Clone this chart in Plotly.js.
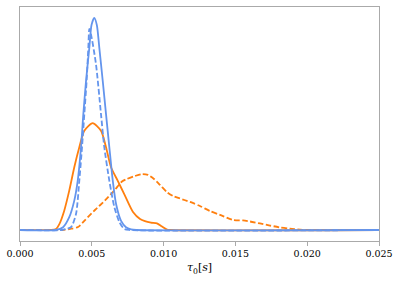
<!DOCTYPE html>
<html>
<head>
<meta charset="utf-8">
<script src="https://cdn.plot.ly/plotly-3.0.1.min.js"></script>
<style>html,body{margin:0;padding:0;background:#fff;}#chart{width:399px;height:283px;}</style>
</head>
<body>
<div id="chart"></div>
<script>
// Blue solid
const blueSolidX = [0, 0.0025, 0.0030, 0.00343, 0.00378, 0.00402, 0.00425, 0.00441, 0.00460, 0.00483, 0.00498, 0.00517, 0.00535, 0.00552, 0.00576, 0.00599, 0.00622, 0.00646, 0.00669, 0.00703, 0.00738, 0.00773, 0.0081, 0.025];
const blueSolidY = [0, 0, 0.013, 0.060, 0.138, 0.232, 0.390, 0.545, 0.702, 0.859, 0.964, 0.997, 0.964, 0.859, 0.702, 0.545, 0.390, 0.232, 0.122, 0.044, 0.013, 0.003, 0, 0];
// Blue dashed
const blueDashX = [0, 0.00292, 0.00320, 0.00355, 0.00390, 0.00413, 0.00432, 0.00448, 0.00464, 0.00476, 0.00483, 0.00494, 0.00529, 0.00564, 0.00587, 0.00622, 0.00657, 0.00692, 0.00726, 0.00766, 0.025];
const blueDashY = [0, 0, 0.005, 0.013, 0.075, 0.232, 0.390, 0.545, 0.702, 0.859, 0.945, 0.921, 0.780, 0.545, 0.390, 0.232, 0.108, 0.038, 0.005, 0, 0];
// Orange solid
const orangeSolidX = [0, 0.00216, 0.00251, 0.00274, 0.00308, 0.00343, 0.00378, 0.00413, 0.00448, 0.00506, 0.00564, 0.00599, 0.00634, 0.00680, 0.00726, 0.00787, 0.00836, 0.00870, 0.00912, 0.00954, 0.00989, 0.01024, 0.01045, 0.025];
const orangeSolidY = [0, 0, 0.005, 0.028, 0.091, 0.185, 0.295, 0.389, 0.467, 0.502, 0.467, 0.389, 0.295, 0.232, 0.169, 0.085, 0.052, 0.042, 0.035, 0.031, 0.016, 0.002, 0, 0];
// Orange dashed
const orangeDashX = [0, 0.00292, 0.00348, 0.00404, 0.00453, 0.00522, 0.00592, 0.00662, 0.00710, 0.00745, 0.00801, 0.00850, 0.00891, 0.00933, 0.00975, 0.01022, 0.01065, 0.01114, 0.01184, 0.01253, 0.01323, 0.01393, 0.01483, 0.01553, 0.01602, 0.01671, 0.01741, 0.01811, 0.01880, 0.01950, 0.01999, 0.025];
const orangeDashY = [0, 0, 0.005, 0.014, 0.047, 0.094, 0.139, 0.190, 0.228, 0.240, 0.254, 0.263, 0.259, 0.240, 0.212, 0.179, 0.160, 0.148, 0.132, 0.113, 0.089, 0.071, 0.047, 0.045, 0.040, 0.031, 0.021, 0.012, 0.006, 0.002, 0, 0];

const xTickVals = [0, 0.005, 0.010, 0.015, 0.020, 0.025];
const xTickText = ['0.000', '0.005', '0.010', '0.015', '0.020', '0.025'];

const BLUE = '#6495ed';
const ORANGE = '#ff7f0e';
const LW = 1.8;
const DASH = '5.5px,2.5px';
const SERIF = 'DejaVu Serif';

const traces = [
  {x: orangeSolidX, y: orangeSolidY, mode: 'lines', line: {color: ORANGE, width: LW, shape: 'spline', smoothing: 0.7}},
  {x: orangeDashX, y: orangeDashY, mode: 'lines', line: {color: ORANGE, width: LW, dash: DASH, shape: 'spline', smoothing: 0.7}},
  {x: blueDashX, y: blueDashY, mode: 'lines', line: {color: BLUE, width: LW, dash: DASH, shape: 'spline', smoothing: 0.7}},
  {x: blueSolidX, y: blueSolidY, mode: 'lines', line: {color: BLUE, width: LW, shape: 'spline', smoothing: 0.7}}
];

const axisColor = '#aaaaaa';
const layout = {
  width: 399, height: 283,
  margin: {l: 20, r: 20, t: 7, b: 42},
  paper_bgcolor: '#ffffff', plot_bgcolor: '#ffffff',
  showlegend: false,
  font: {family: SERIF, color: '#000000', size: 9.5},
  xaxis: {
    range: [0, 0.025],
    tickmode: 'array',
    tickvals: xTickVals, ticktext: xTickText,
    ticks: 'outside', ticklen: 3.5, tickwidth: 1, tickcolor: axisColor,
    showline: true, linecolor: axisColor, linewidth: 1.2, mirror: true,
    showgrid: false, zeroline: false,
    tickfont: {size: 9.5, family: SERIF, color: '#000000'},
    title: {text: '<i>τ</i><sub>0</sub>[<i>s</i>]', font: {size: 11, family: SERIF, color: '#000000'}, standoff: 5}
  },
  yaxis: {
    range: [-0.0517, 1.0484],
    showticklabels: false, ticks: '',
    showline: true, linecolor: axisColor, linewidth: 1.2, mirror: true,
    showgrid: false, zeroline: false
  }
};

Plotly.newPlot('chart', traces, layout, {displayModeBar: false});
</script>
</body>
</html>
